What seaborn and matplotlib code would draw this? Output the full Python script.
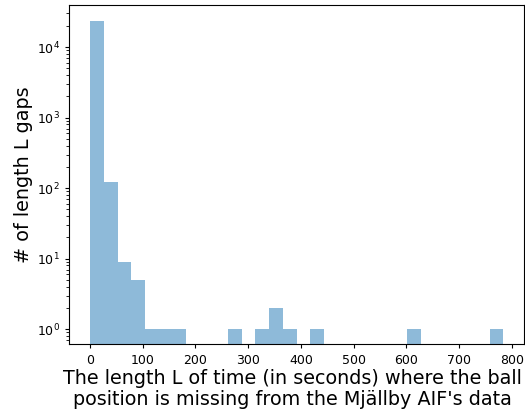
import numpy as np
import pandas as pd
import matplotlib
matplotlib.use("Agg")
import matplotlib.pyplot as plt
import seaborn as sns

# gap-length histogram (30 equal bins up to the longest gap)
max_gap_len = 784
gap_counts = [23600, 124, 9, 5, 1, 1, 1, 0, 0, 0,
              1, 0, 1, 2, 1, 0, 1, 0, 0, 0,
              0, 0, 0, 1, 0, 0, 0, 0, 0, 1]

x_label = "The length L of time (in seconds) where the ball\nposition is missing from the Mjällby AIF's data"
y_label = "# of length L gaps"

# one row per bin, weighted by its count
edges = np.linspace(0, max_gap_len, len(gap_counts) + 1)
df = pd.DataFrame({
    "gap_len": (edges[:-1] + edges[1:]) / 2,
    "count": gap_counts,
})
df = df[df["count"] > 0]

fig = plt.figure(figsize=(5.25, 4.13), dpi=100)
ax = fig.add_axes([69.3 / 525, 1 - 344.3 / 413, (524 - 69.3) / 525, (344.3 - 5.3) / 413])

sns.histplot(data=df, x="gap_len", weights="count", bins=len(gap_counts),
             binrange=(0, max_gap_len), color="tab:blue", alpha=0.5,
             linewidth=0, ax=ax)
ax.set_yscale("log")
ax.set_ylim(0.61, 39200)
ax.set_xlim(-39.2, 823.2)
ax.set_xticks(range(0, 801, 100))
ax.tick_params(labelsize=9, length=3.2)

ax.set_xlabel(x_label, fontsize=13.8, linespacing=1.1)
ax.xaxis.set_label_coords(0.4915, -0.074)
ax.set_ylabel(y_label, fontsize=13.8, labelpad=3)

fig.savefig("out.png", dpi=100)
